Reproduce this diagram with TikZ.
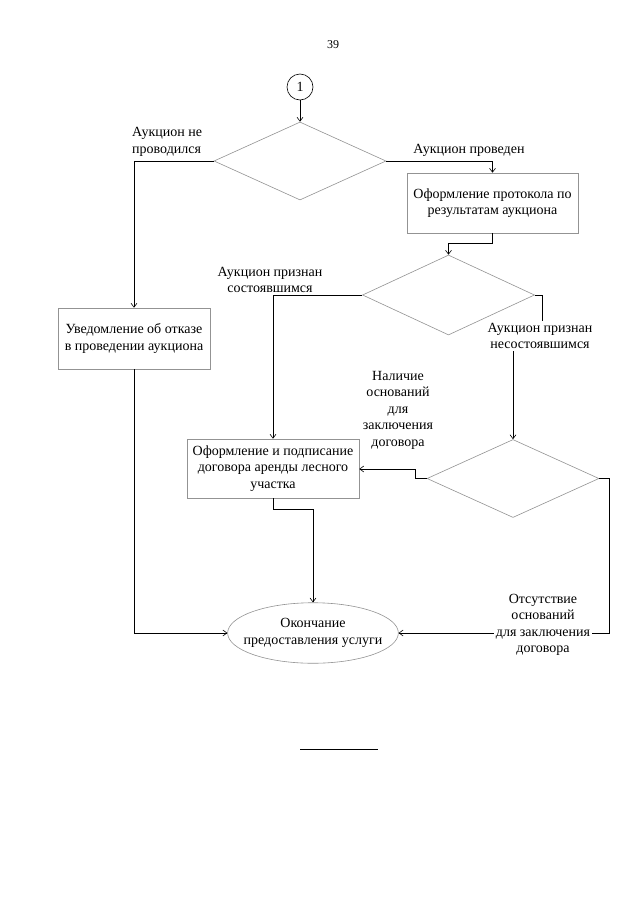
\documentclass[tikz,border=0pt]{standalone}
\usepackage{fontspec}
\setmainfont{Liberation Serif}
\usetikzlibrary{arrows.meta,shapes.geometric}
\begin{document}
\begin{tikzpicture}[x=1pt,y=-1pt,
  every node/.style={font=\fontsize{14}{16.5}\selectfont, inner sep=0pt, align=center},
  conn/.style={draw=black, line width=0.6pt},
  arr/.style={conn, -{Straight Barb[length=4pt,width=6pt]}},
  box/.style={draw=gray!85, line width=0.6pt},
  dia/.style={diamond, draw=gray!85, line width=0.6pt, minimum width=172pt, minimum height=78pt},
  lbl/.style={fill=white, inner sep=2pt}]
\useasboundingbox[fill=white] (0,0) rectangle (640,905);

\node (p39) at (333,45) {\fontsize{12}{14}\selectfont 39};
\node[circle, draw, line width=0.6pt, minimum size=26pt] (c1) at (300,87) {1};
\node[dia] (d1) at (300,161) {};
\node[box, minimum width=152pt, minimum height=61pt] (b1) at (134,338.5) {Уведомление об отказе\\в проведении аукциона};
\node[box, minimum width=171pt, minimum height=60pt] (b2) at (492.5,203) {Оформление протокола по\\результатам аукциона};
\node[dia, minimum height=80pt] (d2) at (448.5,295) {};
\node[dia] (d3) at (513,478.5) {};
\node[box, minimum width=172pt, minimum height=59pt] (b3) at (273,468.5) {Оформление и подписание\\договора аренды лесного\\участка};
\node[ellipse, draw=gray!85, line width=0.6pt, inner xsep=-9pt, inner ysep=7pt] (e) at (313,633) {Окончание\\предоставления услуги};

\coordinate (k1) at (134,161);
\coordinate (k2) at (492.5,161);
\coordinate (k3) at (492.5,243);
\coordinate (k4) at (448.5,243);
\coordinate (k5) at (273,295);
\coordinate (k6) at (542,295);
\coordinate (k7) at (542,336);
\coordinate (k8) at (513,336);
\coordinate (k9) at (415,478.5);
\coordinate (k10) at (415,469);
\coordinate (k11) at (273,509);
\coordinate (k12) at (313,509);
\coordinate (k13) at (134,633);
\coordinate (k14) at (609,478.5);
\coordinate (k15) at (609,633);

\draw[arr] (c1) -- (d1.north);
\draw[arr] (d1.west) -- (k1) -- (b1.north);
\draw[arr] (d1.east) -- (k2) -- (b2.north);
\draw[arr] (b2.south) -- (k3) -- (k4) -- (d2.north);
\draw[arr] (d2.west) -- (k5) -- (b3.north);
\draw[arr] (d2.east) -- (k6) -- (k7) -- (k8) -- (d3.north);
\draw[arr] (d3.west) -- (k9) -- (k10) -- (b3.east |- k10);
\draw[arr] (b3.south) -- (k11) -- (k12) -- (e.north);
\draw[arr] (b1.south) -- (k13) -- (e.west);
\draw[arr] (d3.east) -- (k14) -- (k15) -- (e.east);

\node[align=left, anchor=west] (l1) at (132,142) {Аукцион не\\проводился};
\node (l2) at (469,150) {Аукцион проведен};
\node[lbl, inner xsep=9pt] (l3) at (270,280) {Аукцион признан\\состоявшимся};
\node[lbl] (l4) at (540,336) {Аукцион признан\\несостоявшимся};
\node (l5) at (398,410) {Наличие\\оснований\\для\\заключения\\договора};
\node[lbl] (l6) at (543,625) {Отсутствие\\оснований\\для заключения\\договора};

\draw[line width=0.6pt] (300,749) -- (378,749);
\end{tikzpicture}
\end{document}
